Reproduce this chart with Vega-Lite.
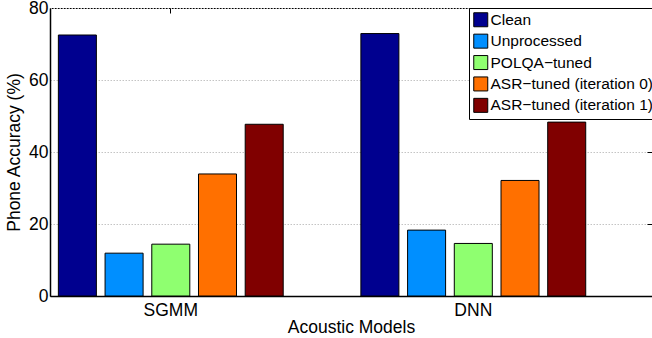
{
  "$schema": "https://vega.github.io/schema/vega-lite/v6.json",
  "width": 602,
  "height": 288,
  "autosize": {"type": "none"},
  "padding": {"left": 50, "top": 8, "right": 0, "bottom": 42},
  "background": "white",
  "config": {
    "font": "Liberation Sans",
    "view": {"stroke": "black", "strokeWidth": 1},
    "axis": {
      "labelFont": "Liberation Sans",
      "titleFont": "Liberation Sans",
      "labelColor": "black",
      "titleColor": "black",
      "labelFontSize": 17.5,
      "titleFontSize": 17.5,
      "titleFontWeight": "normal",
      "domainColor": "black",
      "tickColor": "black"
    },
    "legend": {
      "labelFont": "Liberation Sans",
      "labelFontSize": 15.5,
      "labelColor": "black",
      "symbolType": "square",
      "symbolSize": 196,
      "symbolStrokeColor": "black",
      "symbolStrokeWidth": 1,
      "symbolOpacity": 1,
      "labelOffset": 2,
      "rowPadding": 2.4,
      "padding": 4,
      "labelLimit": 400,
      "strokeColor": "black",
      "fillColor": "white"
    }
  },
  "data": {
    "values": [
      {"model": "SGMM", "condition": "Clean", "accuracy": 72.5},
      {"model": "SGMM", "condition": "Unprocessed", "accuracy": 11.9},
      {"model": "SGMM", "condition": "POLQA−tuned", "accuracy": 14.4},
      {"model": "SGMM", "condition": "ASR−tuned (iteration 0)", "accuracy": 33.9},
      {"model": "SGMM", "condition": "ASR−tuned (iteration 1)", "accuracy": 47.7},
      {"model": "DNN", "condition": "Clean", "accuracy": 72.9},
      {"model": "DNN", "condition": "Unprocessed", "accuracy": 18.3},
      {"model": "DNN", "condition": "POLQA−tuned", "accuracy": 14.6},
      {"model": "DNN", "condition": "ASR−tuned (iteration 0)", "accuracy": 32.1},
      {"model": "DNN", "condition": "ASR−tuned (iteration 1)", "accuracy": 48.3}
    ]
  },
  "layer": [
    {
      "mark": {"type": "bar", "stroke": "black", "strokeWidth": 1},
      "encoding": {
        "x": {
          "field": "model",
          "type": "nominal",
          "sort": ["SGMM", "DNN"],
          "scale": {"paddingInner": 0.228, "paddingOuter": 0.109, "align": 0.061},
          "axis": {
            "orient": "bottom",
            "title": "Acoustic Models",
            "labelAngle": 0,
            "ticks": false,
            "labelPadding": 5,
            "titlePadding": 0,
            "domainWidth": 1.5
          }
        },
        "xOffset": {
          "field": "condition",
          "type": "nominal",
          "sort": ["Clean", "Unprocessed", "POLQA−tuned", "ASR−tuned (iteration 0)", "ASR−tuned (iteration 1)"],
          "scale": {"paddingInner": 0.186, "paddingOuter": 0.093}
        },
        "y": {
          "field": "accuracy",
          "type": "quantitative",
          "scale": {"domain": [0, 80], "nice": false},
          "axis": {
            "orient": "left",
            "title": "Phone Accuracy (%)",
            "values": [0, 20, 40, 60, 80],
            "ticks": false,
            "labelPadding": 2,
            "titlePadding": 5,
            "domainWidth": 1.5,
            "grid": true,
            "gridColor": "#c4c4c4",
            "gridDash": [1.5, 1.5],
            "gridWidth": 1
          }
        },
        "color": {
          "field": "condition",
          "type": "nominal",
          "scale": {
            "domain": ["Clean", "Unprocessed", "POLQA−tuned", "ASR−tuned (iteration 0)", "ASR−tuned (iteration 1)"],
            "range": ["#00008F", "#008FFF", "#8FFF70", "#FF7000", "#800000"]
          },
          "legend": {
            "orient": "none",
            "legendX": 419,
            "legendY": 0,
            "title": null
          }
        }
      }
    },
    {
      "mark": {"type": "bar", "opacity": 0},
      "encoding": {
        "x": {
          "field": "model",
          "type": "nominal",
          "sort": ["SGMM", "DNN"],
          "axis": {"orient": "top", "title": null, "labels": false, "domain": false, "ticks": true, "tickSize": -5, "tickWidth": 1}
        },
        "xOffset": {
          "field": "condition",
          "type": "nominal",
          "sort": ["Clean", "Unprocessed", "POLQA−tuned", "ASR−tuned (iteration 0)", "ASR−tuned (iteration 1)"]
        },
        "y": {
          "field": "accuracy",
          "type": "quantitative",
          "axis": {"orient": "right", "title": null, "labels": false, "domain": false, "ticks": true, "tickSize": -5, "values": [0, 20, 40, 60, 80], "grid": false}
        }
      }
    }
  ],
  "resolve": {"axis": {"x": "independent", "y": "independent"}}
}
